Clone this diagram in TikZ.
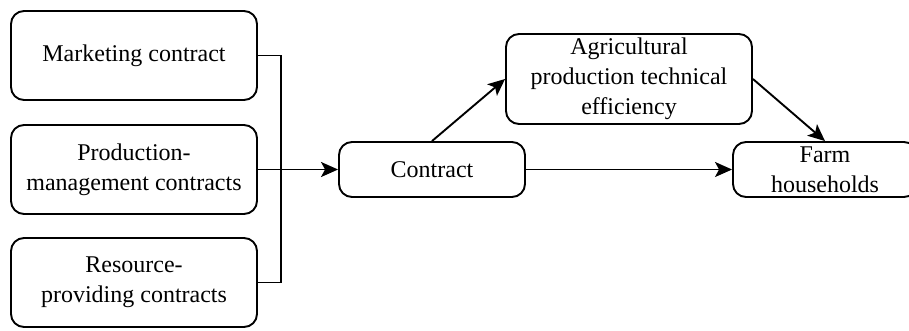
\documentclass[tikz,border=0pt]{standalone}
\usepackage{fontspec}
\setmainfont{Liberation Serif}
\usetikzlibrary{arrows.meta}
\begin{document}
\begin{tikzpicture}[x=1pt,y=-1pt,
  box/.style={draw, line width=1.9pt, rounded corners=13pt, align=center,
    inner sep=0pt, font=\fontsize{24}{30}\selectfont},
  conn/.style={line width=1.9pt},
  arr/.style={conn, -{Stealth[length=17pt,width=15pt,inset=4pt]}}]
\useasboundingbox (0,0) rectangle (909,330);
\node[box, minimum width=246pt, minimum height=89pt] (m) at (134,55.5) {Marketing contract};
\node[box, minimum width=246pt, minimum height=89pt] (p) at (134,169.5) {Production-\\management contracts};
\node[box, minimum width=246pt, minimum height=89pt] (r) at (134,282.5) {Resource-\\providing contracts};
\node[box, minimum width=186pt, minimum height=55pt] (c) at (432,169.5) {Contract};
\node[box, minimum width=246pt, minimum height=90pt] (a) at (629,79) {Agricultural\\production technical\\efficiency};
\node[box, minimum width=184pt, minimum height=55pt] (f) at (825,169.5) {Farm\\households};
\coordinate (bt) at (281,55.5);
\coordinate (bb) at (281,282.5);
\draw[conn] (m.east) -- (bt) -- (bb) -- (r.east);
\draw[arr] (p.east) -- (c.west);
\draw[arr] (c.north) -- (a.west);
\draw[arr] (a.east) -- (f.north);
\draw[arr] (c.east) -- (f.west);
\end{tikzpicture}
\end{document}
